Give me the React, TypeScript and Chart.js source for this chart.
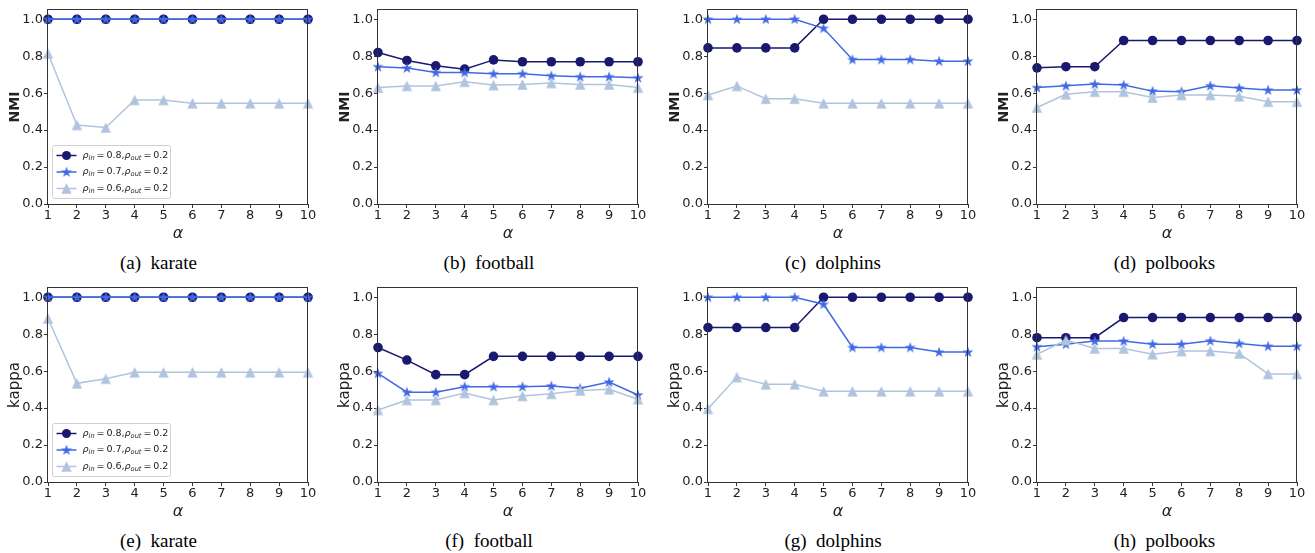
import React, { useEffect, useRef } from "react";
import { Chart, registerables } from "chart.js";

Chart.register(...registerables);

// ---------------- data ----------------
const alphaValues = [1, 2, 3, 4, 5, 6, 7, 8, 9, 10];
const yTickValues = [0, 0.2, 0.4, 0.6, 0.8, 1.0];
const rhoIn = ["0.8", "0.7", "0.6"];
const rhoOut = "0.2";

// NMI (top row)
const nmiKarate08 = [1, 1, 1, 1, 1, 1, 1, 1, 1, 1];
const nmiKarate07 = [1, 1, 1, 1, 1, 1, 1, 1, 1, 1];
const nmiKarate06 = [0.815, 0.428, 0.414, 0.563, 0.563, 0.545, 0.545, 0.545, 0.545, 0.545];
const nmiFootball08 = [0.82, 0.777, 0.748, 0.73, 0.78, 0.77, 0.77, 0.77, 0.77, 0.77];
const nmiFootball07 = [0.743, 0.736, 0.712, 0.712, 0.705, 0.705, 0.694, 0.689, 0.689, 0.683];
const nmiFootball06 = [0.63, 0.639, 0.639, 0.662, 0.644, 0.647, 0.655, 0.647, 0.647, 0.63];
const nmiDolphins08 = [0.845, 0.845, 0.845, 0.845, 1, 1, 1, 1, 1, 1];
const nmiDolphins07 = [1, 1, 1, 1, 0.951, 0.782, 0.782, 0.782, 0.773, 0.773];
const nmiDolphins06 = [0.59, 0.639, 0.57, 0.57, 0.545, 0.545, 0.545, 0.545, 0.545, 0.545];
const nmiPolbooks08 = [0.737, 0.743, 0.743, 0.885, 0.885, 0.885, 0.885, 0.885, 0.885, 0.885];
const nmiPolbooks07 = [0.63, 0.64, 0.649, 0.644, 0.611, 0.608, 0.64, 0.628, 0.617, 0.617];
const nmiPolbooks06 = [0.522, 0.594, 0.608, 0.608, 0.576, 0.59, 0.59, 0.583, 0.554, 0.554];

// kappa (bottom row)
const kappaKarate08 = [1, 1, 1, 1, 1, 1, 1, 1, 1, 1];
const kappaKarate07 = [1, 1, 1, 1, 1, 1, 1, 1, 1, 1];
const kappaKarate06 = [0.885, 0.534, 0.559, 0.594, 0.594, 0.594, 0.594, 0.594, 0.594, 0.594];
const kappaFootball08 = [0.728, 0.66, 0.581, 0.581, 0.68, 0.68, 0.68, 0.68, 0.68, 0.68];
const kappaFootball07 = [0.588, 0.486, 0.486, 0.516, 0.516, 0.516, 0.52, 0.507, 0.541, 0.471];
const kappaFootball06 = [0.39, 0.444, 0.444, 0.482, 0.444, 0.466, 0.477, 0.495, 0.502, 0.448];
const kappaDolphins08 = [0.836, 0.836, 0.836, 0.836, 1, 1, 1, 1, 1, 1];
const kappaDolphins07 = [1, 1, 1, 1, 0.962, 0.728, 0.728, 0.728, 0.703, 0.703];
const kappaDolphins06 = [0.396, 0.568, 0.529, 0.529, 0.491, 0.491, 0.491, 0.491, 0.491, 0.491];
const kappaPolbooks08 = [0.781, 0.781, 0.781, 0.89, 0.89, 0.89, 0.89, 0.89, 0.89, 0.89];
const kappaPolbooks07 = [0.732, 0.746, 0.763, 0.763, 0.746, 0.746, 0.764, 0.75, 0.735, 0.735];
const kappaPolbooks06 = [0.691, 0.768, 0.723, 0.723, 0.692, 0.709, 0.709, 0.696, 0.585, 0.585];

const panelCaptions = ["(a)  karate", "(b)  football", "(c)  dolphins", "(d)  polbooks", "(e)  karate", "(f)  football", "(g)  dolphins", "(h)  polbooks"];
const panelYLabels = ["NMI", "NMI", "NMI", "NMI", "kappa", "kappa", "kappa", "kappa"];
const panelSeries = [
  [nmiKarate08, nmiKarate07, nmiKarate06],
  [nmiFootball08, nmiFootball07, nmiFootball06],
  [nmiDolphins08, nmiDolphins07, nmiDolphins06],
  [nmiPolbooks08, nmiPolbooks07, nmiPolbooks06],
  [kappaKarate08, kappaKarate07, kappaKarate06],
  [kappaFootball08, kappaFootball07, kappaFootball06],
  [kappaDolphins08, kappaDolphins07, kappaDolphins06],
  [kappaPolbooks08, kappaPolbooks07, kappaPolbooks06],
];
const panelHasLegend = [true, false, false, false, true, false, false, false];

// ---------------- styles / layout ----------------
const COLORS = ["#191970", "#4169E1", "#B0C4DE"];
const FONT = "DejaVu Sans";
const TEXT = "#222";
const PLOT_LEFTS = [48, 378, 708, 1037];
const PLOT_TOPS = [10, 288];
const CAPTION_X = [158.5, 489, 833, 1164.5];
const CAPTION_Y = [262, 540];
const Y_AXIS_W = 48;
const X_AXIS_H = 42;
const PAD_TOP = 10;
const PAD_RIGHT = 14;
const PLOT_W = 260;
const PLOT_H = 194;
const CW = Y_AXIS_W + PLOT_W + PAD_RIGHT;
const CH = PAD_TOP + PLOT_H + X_AXIS_H;
const LEGEND_TEXT_W = 86;

function makeStar(color: string, R: number) {
  const c = document.createElement("canvas");
  const s = Math.ceil(2 * R + 2);
  c.width = s;
  c.height = s;
  const ctx = c.getContext("2d")!;
  const cx = s / 2, cy = s / 2 + 0.3;
  const r = R * 0.381966;
  ctx.beginPath();
  for (let i = 0; i < 10; i++) {
    const rad = i % 2 === 0 ? R : r;
    const a = -Math.PI / 2 + (i * Math.PI) / 5;
    const x = cx + rad * Math.cos(a);
    const y = cy + rad * Math.sin(a);
    if (i === 0) ctx.moveTo(x, y);
    else ctx.lineTo(x, y);
  }
  ctx.closePath();
  ctx.fillStyle = color;
  ctx.fill();
  return c;
}

function makeTriangle(color: string, h: number) {
  const c = document.createElement("canvas");
  const s = Math.ceil(2 * h + 2);
  c.width = s;
  c.height = s;
  const ctx = c.getContext("2d")!;
  const cx = s / 2, cy = s / 2;
  ctx.beginPath();
  ctx.moveTo(cx, cy - h);
  ctx.lineTo(cx - h, cy + h);
  ctx.lineTo(cx + h, cy + h);
  ctx.closePath();
  ctx.fillStyle = color;
  ctx.fill();
  return c;
}

function Panel({ index }: { index: number }) {
  const ref = useRef<HTMLCanvasElement>(null);
  const col = index % 4;
  const row = Math.floor(index / 4);
  const left = PLOT_LEFTS[col] - Y_AXIS_W;
  const top = PLOT_TOPS[row] - PAD_TOP;

  useEffect(() => {
    const star = makeStar(COLORS[1], 5.8);
    const tri = makeTriangle(COLORS[2], 5.2);
    const styles: any[] = ["circle", star, tri];
    const series = panelSeries[index];

    const framePlugin = {
      id: "frame" + index,
      afterDatasetsDraw(chart: any) {
        const { ctx, chartArea } = chart;
        ctx.save();
        ctx.strokeStyle = "#333";
        ctx.lineWidth = 1;
        ctx.strokeRect(chartArea.left - 0.5, chartArea.top - 0.5, chartArea.right - chartArea.left, chartArea.bottom - chartArea.top + 1);
        ctx.restore();
      },
      afterDraw(chart: any) {
        if (!panelHasLegend[index]) return;
        const { ctx, chartArea } = chart;
        const bx = chartArea.left + 4.5;
        const by = chartArea.top + 135.5;
        const bw = 118;
        const bh = 53;
        ctx.save();
        ctx.beginPath();
        const rr = 2;
        ctx.moveTo(bx + rr, by);
        ctx.lineTo(bx + bw - rr, by);
        ctx.quadraticCurveTo(bx + bw, by, bx + bw, by + rr);
        ctx.lineTo(bx + bw, by + bh - rr);
        ctx.quadraticCurveTo(bx + bw, by + bh, bx + bw - rr, by + bh);
        ctx.lineTo(bx + rr, by + bh);
        ctx.quadraticCurveTo(bx, by + bh, bx, by + bh - rr);
        ctx.lineTo(bx, by + rr);
        ctx.quadraticCurveTo(bx, by, bx + rr, by);
        ctx.closePath();
        ctx.fillStyle = "rgba(255,255,255,0.8)";
        ctx.fill();
        ctx.strokeStyle = "#d0d0d0";
        ctx.lineWidth = 1;
        ctx.stroke();

        const thin = "\u2009";
        const pieces = (i: number) => [
          { s: "ρ", kind: "it" },
          { s: "in", kind: "sub" },
          { s: thin + "=" + thin + rhoIn[i] + ",", kind: "main" },
          { s: "ρ", kind: "it" },
          { s: "out", kind: "sub" },
          { s: thin + "=" + thin + rhoOut, kind: "main" },
        ];
        const fontFor = (kind: string, size: number) =>
          kind === "main" ? `${size}px "${FONT}"` : kind === "it" ? `italic ${size}px "${FONT}"` : `italic ${size * 0.7}px "${FONT}"`;
        let w = 0;
        for (const p of pieces(0)) {
          ctx.font = fontFor(p.kind, 10);
          w += ctx.measureText(p.s).width;
        }
        const size = Math.min(10.5, (10 * LEGEND_TEXT_W) / w);

        for (let i = 0; i < 3; i++) {
          const y = by + 10 + i * 16.5;
          ctx.strokeStyle = COLORS[i];
          ctx.lineWidth = 1.5;
          ctx.beginPath();
          ctx.moveTo(bx + 4, y);
          ctx.lineTo(bx + 24, y);
          ctx.stroke();
          const mx = bx + 14;
          if (i === 0) {
            ctx.fillStyle = COLORS[0];
            ctx.beginPath();
            ctx.arc(mx, y, 4.5, 0, Math.PI * 2);
            ctx.fill();
          } else {
            const img = styles[i] as HTMLCanvasElement;
            ctx.drawImage(img, mx - img.width / 2, y - img.height / 2);
          }
          let tx = bx + 30;
          ctx.fillStyle = TEXT;
          ctx.textBaseline = "middle";
          ctx.textAlign = "left";
          for (const p of pieces(i)) {
            ctx.font = fontFor(p.kind, size);
            ctx.fillText(p.s, tx, y + (p.kind === "sub" ? 2.5 : 0));
            tx += ctx.measureText(p.s).width;
          }
        }
        ctx.restore();
      },
    };

    const tickFont = { family: FONT, size: 13 };
    const grid = {
      display: true,
      drawOnChartArea: false,
      drawTicks: true,
      tickLength: 4,
      color: "#333",
      lineWidth: 1,
    };
    const isNMI = panelYLabels[index] === "NMI";

    const chart = new Chart(ref.current!, {
      type: "line",
      data: {
        datasets: series.map((vals, si) => ({
          label: "ρin = " + rhoIn[si] + ",ρout = " + rhoOut,
          data: alphaValues.map((a, k) => ({ x: a, y: vals[k] })),
          borderColor: COLORS[si],
          backgroundColor: COLORS[si],
          borderWidth: 1.5,
          pointStyle: styles[si],
          pointRadius: 4.8,
          pointBorderWidth: 0,
          pointBackgroundColor: COLORS[si],
          pointBorderColor: COLORS[si],
          tension: 0,
          fill: false,
          clip: false as any,
          order: 3 - si,
        })),
      },
      options: {
        responsive: false,
        maintainAspectRatio: false,
        devicePixelRatio: 1,
        animation: false,
        events: [],
        layout: { padding: { top: PAD_TOP, right: PAD_RIGHT, left: 0, bottom: 0 } },
        plugins: {
          legend: { display: false },
          tooltip: { enabled: false },
          title: { display: false },
        },
        scales: {
          x: {
            type: "linear",
            min: 1,
            max: 10,
            offset: false,
            ticks: {
              stepSize: 1,
              font: tickFont,
              color: TEXT,
              padding: 0,
              maxRotation: 0,
              autoSkip: false,
              callback: (v: any) => String(v),
            },
            grid,
            border: { display: false },
            title: {
              display: true,
              text: "α",
              color: TEXT,
              font: { family: FONT, size: 16, style: "italic" },
              padding: { top: 0, bottom: 3 },
            },
            afterFit: (s: any) => {
              s.height = X_AXIS_H;
            },
          },
          y: {
            type: "linear",
            min: 0,
            max: 1.05,
            afterBuildTicks: (s: any) => {
              s.ticks = yTickValues.map((v) => ({ value: v }));
            },
            ticks: {
              font: tickFont,
              color: TEXT,
              padding: 1,
              callback: (v: any) => Number(v).toFixed(1),
            },
            grid,
            border: { display: false },
            title: {
              display: true,
              text: panelYLabels[index],
              color: TEXT,
              font: { family: FONT, size: isNMI ? 14 : 15, weight: isNMI ? "bold" : "normal" },
              padding: { top: isNMI ? 6.6 : 6, bottom: 0 },
            },
            afterFit: (s: any) => {
              s.width = Y_AXIS_W;
            },
          },
        },
      } as any,
      plugins: [framePlugin],
    });
    return () => chart.destroy();
  }, [index]);

  return (
    <canvas
      ref={ref}
      width={CW}
      height={CH}
      style={{ position: "absolute", left, top, width: CW, height: CH, display: "block" }}
    />
  );
}

export default function App() {
  return (
    <div style={{ position: "absolute", left: 0, top: 0, width: 1315, height: 553, background: "#fff", overflow: "hidden" }}>
      {panelCaptions.map((_, i) => (
        <Panel key={"p" + i} index={i} />
      ))}
      {panelCaptions.map((cap, i) => (
        <div
          key={"c" + i}
          style={{
            position: "absolute",
            left: CAPTION_X[i % 4],
            top: CAPTION_Y[Math.floor(i / 4)],
            transform: "translate(-50%, -50%)",
            fontFamily: '"Liberation Serif", serif',
            fontSize: 19,
            lineHeight: 1,
            whiteSpace: "pre",
            color: "#000",
          }}
        >
          {cap}
        </div>
      ))}
    </div>
  );
}
